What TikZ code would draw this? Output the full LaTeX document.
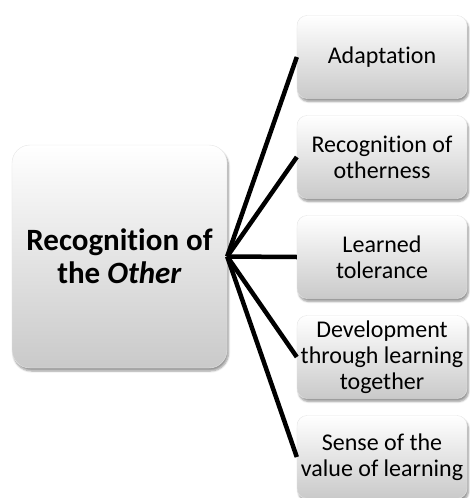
\documentclass[tikz,border=0pt]{standalone}
\usepackage{fontspec}
\setmainfont{Carlito}[Ligatures=NoCommon]
\usetikzlibrary{positioning, shadows.blur}

\begin{document}
\begin{tikzpicture}[x=1pt, y=-1pt, node distance=100pt, on grid,
  box/.style={rounded corners=10pt, top color=white, bottom color=gray!42, draw=gray!20,
    blur shadow={shadow xshift=1.5pt, shadow yshift=-3pt, shadow blur steps=6}, align=center},
  hub/.style={box, rounded corners=18pt, minimum width=215pt, minimum height=223pt,
    font=\fontsize{31}{33}\selectfont\bfseries},
  leaf/.style={box, minimum width=170pt, minimum height=83pt,
    font=\fontsize{24}{26}\selectfont},
  link/.style={line width=4.5pt}]
  \useasboundingbox (0,0) rectangle (470,498);

  \node[hub] (other) at (119.5,256.5) {Recognition of\\the \textit{Other}};

  \node[leaf] (adapt) at (382,57) {Adaptation};
  \node[leaf] (otherness) [below=of adapt] {Recognition of\\otherness};
  \node[leaf] (tolerance) [below=of otherness] {Learned\\tolerance};
  \node[leaf] (together) [below=of tolerance] {Development\\through learning\\together};
  \node[leaf] (value) [below=of together] {Sense of the\\value of learning};

  \path[link]
  (other.east) edge (adapt.west)
               edge (otherness.west)
               edge (tolerance.west)
               edge (together.west)
               edge (value.west);
\end{tikzpicture}
\end{document}
